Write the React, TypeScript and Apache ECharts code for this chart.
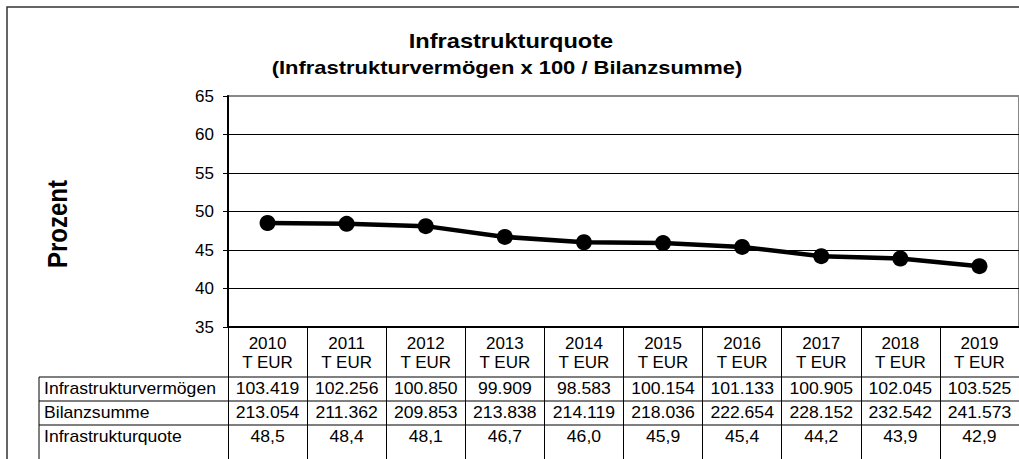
import React, { useEffect, useRef } from "react";
import * as echarts from "echarts";

const years = ["2010", "2011", "2012", "2013", "2014", "2015", "2016", "2017", "2018", "2019"];
const quote = [48.5, 48.4, 48.1, 46.7, 46.0, 45.9, 45.4, 44.2, 43.9, 42.9];
const infraVermoegen = [103419, 102256, 100850, 99909, 98583, 100154, 101133, 100905, 102045, 103525];
const bilanzsumme = [213054, 211362, 209853, 213838, 214119, 218036, 222654, 228152, 232542, 241573];
const rowLabels = ["Infrastrukturvermögen", "Bilanzsumme", "Infrastrukturquote"];
const titleText = "Infrastrukturquote";
const subTitleText = "(Infrastrukturvermögen x 100 / Bilanzsumme)";
const yAxisName = "Prozent";
const unitText = "T EUR";

const fmtThousands = (n: number) => String(n).replace(/\B(?=(\d{3})+(?!\d))/g, ".");
const fmtDecimal = (n: number) => n.toFixed(1).replace(".", ",");

const FONT = "'Liberation Sans', Arial, Helvetica, sans-serif";

export default function App() {
  const ref = useRef<HTMLDivElement>(null);
  useEffect(() => {
    if (!ref.current) return;
    const chart = echarts.init(ref.current, null, { renderer: "svg" });
    const gridLeft = 228;
    const gridTop = 96;
    const gridWidth = 792;
    const gridHeight = 231;
    const option: any = {
      animation: false,
      backgroundColor: "#ffffff",
      grid: {
        left: gridLeft,
        top: gridTop,
        width: gridWidth,
        height: gridHeight,
        show: true,
        borderColor: "#888888",
        borderWidth: 2,
        backgroundColor: "transparent",
      },
      xAxis: {
        type: "category",
        data: years,
        boundaryGap: true,
        axisLine: { show: true, lineStyle: { color: "#000", width: 2 } },
        axisTick: { show: true, alignWithLabel: false, length: 135, lineStyle: { color: "#000", width: 1 } },
        axisLabel: {
          interval: 0,
          margin: 7,
          fontFamily: FONT,
          fontSize: 17,
          lineHeight: 19,
          color: "#000",
          formatter: (v: string) => v + "\n" + unitText,
        },
        splitLine: { show: false },
      },
      yAxis: {
        type: "value",
        min: 35,
        max: 65,
        interval: 5,
        axisLine: { show: true, lineStyle: { color: "#000", width: 2 } },
        axisTick: { show: true, length: 5, lineStyle: { color: "#000", width: 1 } },
        axisLabel: { margin: 14, fontFamily: FONT, fontSize: 17, color: "#000" },
        splitLine: {
          show: true,
          lineStyle: { color: ["#000", "#000", "#000", "#000", "#000", "#000", "#888"], width: 1 },
        },
      },
      series: [
        {
          type: "line",
          data: quote,
          symbol: "circle",
          symbolSize: 16,
          lineStyle: { color: "#000", width: 4.5 },
          itemStyle: { color: "#000" },
          z: 5,
        },
      ],
    };
    chart.setOption(option);

    const centers = years.map((_, i) => chart.convertToPixel({ xAxisIndex: 0 }, i) as number);
    const rowTops = [377, 401, 425];
    const rowH = 24;
    const tableLeft = 39;
    const tableRight = gridLeft + gridWidth;
    const sx = 1.1;
    const rowValues = [infraVermoegen.map(fmtThousands), bilanzsumme.map(fmtThousands), quote.map(fmtDecimal)];

    const graphics: any[] = [];
    graphics.push({
      type: "rect",
      shape: { x: 7, y: 7, width: 1040, height: 480 },
      style: { fill: "none", stroke: "#333", lineWidth: 1.5 },
      silent: true,
    });
    graphics.push({
      type: "text",
      x: 511,
      y: 41,
      scaleX: 1.18,
      style: { text: titleText, fontFamily: FONT, fontWeight: "bold", fontSize: 20, fill: "#000", align: "center", verticalAlign: "middle" },
    });
    graphics.push({
      type: "text",
      x: 507,
      y: 68,
      scaleX: 1.22,
      style: { text: subTitleText, fontFamily: FONT, fontWeight: "bold", fontSize: 18, fill: "#000", align: "center", verticalAlign: "middle" },
    });
    graphics.push({
      type: "text",
      x: 57,
      y: 224,
      rotation: Math.PI / 2,
      scaleY: 1.15,
      style: { text: yAxisName, fontFamily: FONT, fontWeight: "bold", fontSize: 24, fill: "#000", align: "center", verticalAlign: "middle" },
    });
    // table horizontal lines
    [377, 401, 425].forEach((y) => {
      graphics.push({
        type: "line",
        shape: { x1: tableLeft, y1: y, x2: tableRight, y2: y },
        style: { stroke: "#555", lineWidth: 1.5 },
        silent: true,
      });
    });
    graphics.push({
      type: "line",
      shape: { x1: tableLeft, y1: 377, x2: tableLeft, y2: 470 },
      style: { stroke: "#000", lineWidth: 1 },
      silent: true,
    });
    rowLabels.forEach((lab, r) => {
      const cy = rowTops[r] + rowH / 2 - 0.5;
      graphics.push({
        type: "text",
        x: 44,
        y: cy,
        scaleX: sx,
        style: { text: lab, fontFamily: FONT, fontSize: 16, fill: "#000", align: "left", verticalAlign: "middle" },
      });
      rowValues[r].forEach((val, i) => {
        graphics.push({
          type: "text",
          x: centers[i],
          y: cy,
          scaleX: sx,
          style: { text: val, fontFamily: FONT, fontSize: 16, fill: "#000", align: "center", verticalAlign: "middle" },
        });
      });
    });
    chart.setOption({ graphic: graphics });
    return () => chart.dispose();
  }, []);
  return <div ref={ref} style={{ position: "absolute", left: 0, top: 0, width: 1019, height: 459 }} />;
}
